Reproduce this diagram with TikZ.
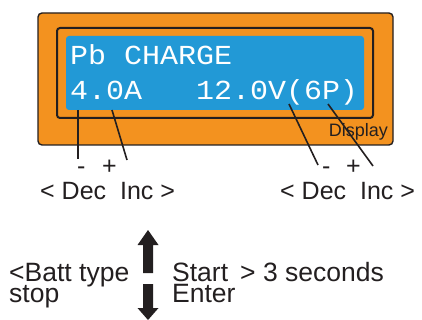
\documentclass[tikz,border=0pt]{standalone}
\usepackage{fontspec}
\setmainfont{Liberation Sans}
\newfontfamily\lcdfont{Liberation Mono}
\definecolor{panelorange}{HTML}{F3921F}
\definecolor{lcdblue}{HTML}{2299D6}
\definecolor{inkgray}{HTML}{231F20}
\begin{document}
\begin{tikzpicture}[x=1pt,y=-1pt,
  lbl/.style={font=\fontsize{25}{25}\selectfont, text=inkgray, inner sep=0pt, anchor=base west},
  blbl/.style={lbl, font=\fontsize{26.5}{26.5}\selectfont},
  lcd/.style={font=\lcdfont\fontsize{27.5}{27.5}\selectfont, text=white, inner sep=0pt, anchor=base west, xscale=1.09},
  lead/.style={draw=inkgray, line width=1.6pt},
  bigarrow/.style={fill=inkgray, draw=none}]
\useasboundingbox (0,0) rectangle (422,320);
% panel
\draw[fill=panelorange, draw=inkgray, line width=1.4pt, rounded corners=4pt] (38,13) rectangle (393,145);
\draw[draw=inkgray, line width=2pt, rounded corners=3pt] (57,28) rectangle (373,118);
\fill[lcdblue, rounded corners=3pt] (66,36) rectangle (364,110);
% lcd text
\node[lcd] (l1) at (70,65) {Pb CHARGE};
\node[lcd] (l2) at (70,100) {4.0A\ \ \ 12.0V(6P)};
\node[font=\fontsize{18}{18}\selectfont, text=inkgray, inner sep=0pt, anchor=base east] (disp) at (388,137) {Display};
% lead lines
\coordinate (a1) at (78,110); \coordinate (b1) at (78,159);
\coordinate (a2) at (112,110); \coordinate (b2) at (127,160);
\coordinate (a3) at (289,104); \coordinate (b3) at (318,165);
\coordinate (a4) at (328,104); \coordinate (b4) at (373,166);
\draw[lead] (a1) -- (b1);
\draw[lead] (a2) -- (b2);
\draw[lead] (a3) -- (b3);
\draw[lead] (a4) -- (b4);
% labels
\node[lbl] (m1) at (77,175) {-};
\node[lbl] (p1) at (102,175) {+};
\node[lbl] (m2) at (322,175) {-};
\node[lbl] (p2) at (346,175) {+};
\node[lbl] (dl) at (40,199) {< Dec\ \ Inc >};
\node[lbl] (dr) at (280,199) {< Dec\ \ Inc >};
% bottom
\node[blbl] (bt) at (9,281) {<Batt type};
\node[blbl] (st) at (9,302) {stop};
\node[blbl] (sa) at (172,281) {Start};
\node[blbl] (sec) at (240,281) {> 3 seconds};
\node[blbl] (en) at (172,302) {Enter};
% arrows
\fill[bigarrow] (148,230) -- (158.5,245) -- (153,245) -- (153,273) -- (143,273) -- (143,245) -- (137.5,245) -- cycle;
\fill[bigarrow] (148,320) -- (158.5,308) -- (153,308) -- (153,284) -- (143,284) -- (143,308) -- (137.5,308) -- cycle;
\end{tikzpicture}
\end{document}
